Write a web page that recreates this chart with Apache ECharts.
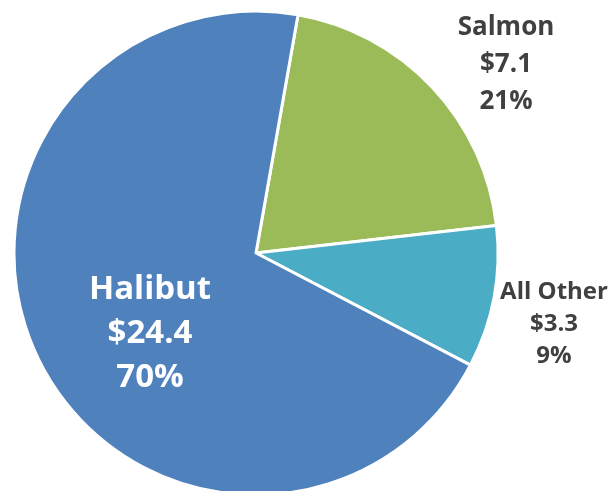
<!DOCTYPE html>
<html>
<head>
<meta charset="utf-8">
<script src="https://cdn.jsdelivr.net/npm/echarts@6/dist/echarts.min.js"></script>
<style>
html, body { margin: 0; padding: 0; background: #fff; }
#chart { width: 612px; height: 491px; }
</style>
</head>
<body>
<div id="chart"></div>
<script>
const names = ['Salmon', 'All Other', 'Halibut'];
const values = [7.1, 3.3, 24.4];
const percents = ['21%', '9%', '70%'];
const colors = ['#9BBB59', '#4BACC6', '#4F81BD'];

// where each label block is centred
const labelSpots = [
    { x: 506, y: 65, size: 26, lh: 37, color: '#404040' },
    { x: 554, y: 324, size: 24, lh: 32, color: '#404040' },
    { x: 150, y: 334, size: 33, lh: 44, color: '#ffffff' }
];

const data = names.map((n, i) => ({
    name: n,
    value: values[i],
    itemStyle: { color: colors[i] },
    label: {
        fontSize: labelSpots[i].size,
        lineHeight: labelSpots[i].lh,
        color: labelSpots[i].color
    }
}));

const option = {
    animation: false,
    series: [
        {
            type: 'pie',
            center: [256, 253],
            radius: 242,
            startAngle: 80,
            clockwise: true,
            itemStyle: { borderColor: '#fff', borderWidth: 3 },
            label: {
                show: true,
                position: 'inside',
                fontFamily: 'Open Sans',
                fontWeight: 'bold',
                align: 'center',
                formatter: p => p.name + '\n$' + values[p.dataIndex].toFixed(1) + '\n' + percents[p.dataIndex]
            },
            labelLine: { show: false },
            labelLayout: p => ({
                x: labelSpots[p.dataIndex].x,
                y: labelSpots[p.dataIndex].y,
                align: 'center',
                verticalAlign: 'middle'
            }),
            data: data
        }
    ]
};

echarts.init(document.getElementById('chart')).setOption(option);
</script>
</body>
</html>
